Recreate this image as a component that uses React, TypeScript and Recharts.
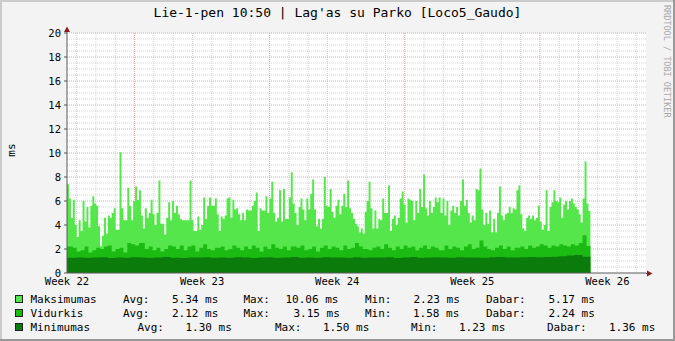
import { ComposedChart, Area, XAxis, YAxis, CartesianGrid } from 'recharts';

// Maksimumas (ms), one value per sample from Week 22 to the last reading
const maxVals = [
  7.4, 6.2, 4.6, 6.1, 4.0, 3.0, 4.4, 3.5, 6.0, 4.3,
  5.5, 3.8, 5.6, 6.4, 5.8, 5.6, 3.9, 2.23, 3.1, 4.6,
  3.3, 4.8, 4.6, 5.0, 5.4, 3.6, 3.6, 10.06, 5.4, 4.4,
  4.4, 7.1, 5.6, 4.4, 6.0, 7.2, 6.1, 6.9, 4.8, 3.7,
  5.4, 4.6, 5.0, 6.1, 4.9, 4.0, 5.0, 7.7, 4.1, 4.1,
  3.2, 4.6, 5.9, 4.4, 6.0, 5.0, 5.6, 4.9, 4.5, 4.4,
  4.4, 4.4, 4.4, 7.7, 4.4, 3.5, 3.5, 4.7, 3.6, 4.0,
  6.3, 4.5, 5.6, 6.3, 5.6, 5.6, 6.2, 4.9, 3.5, 4.7,
  4.5, 4.8, 6.2, 6.3, 4.6, 6.1, 5.3, 5.4, 4.9, 4.4,
  5.0, 4.4, 5.3, 5.2, 5.2, 5.6, 6.0, 6.7, 3.5, 5.4,
  5.2, 5.2, 6.4, 5.0, 6.2, 7.6, 5.0, 4.3, 4.6, 6.9,
  4.3, 7.0, 4.5, 4.5, 6.3, 8.4, 5.8, 5.0, 4.0, 5.5,
  6.2, 5.3, 4.4, 6.2, 5.3, 6.6, 7.8, 5.3, 3.9, 4.5,
  3.7, 4.5, 8.0,
  5.6, 5.5, 7.0, 5.1, 4.6, 5.6, 6.1, 4.9, 5.6, 6.6,
  5.5, 7.7, 5.4, 5.0, 4.5, 4.1, 3.9, 3.4, 3.7, 3.3,
  5.1, 6.0, 7.6, 5.4, 3.7, 5.2, 3.7, 4.5, 4.4, 6.2,
  5.0, 5.0, 7.3, 3.5, 4.5, 4.8, 4.0, 4.6, 6.2, 6.8,
  5.7, 4.2, 6.2, 6.1, 6.0, 4.4, 6.0, 5.0, 7.0, 5.5,
  8.2, 5.4, 4.8, 6.0, 5.0, 5.5, 6.3, 5.9, 6.3, 5.0,
  6.2, 4.8, 6.0, 4.0, 5.2, 5.6, 5.0, 5.5, 4.8, 6.0,
  7.8, 5.6, 6.1, 5.0, 4.2, 4.8, 4.4, 7.0, 6.9, 8.7,
  5.3, 4.0, 5.0, 4.1, 5.2, 3.4, 4.5, 3.4, 5.0, 7.2,
  4.8, 4.4, 4.9, 5.0, 5.5, 5.0, 5.4, 5.3, 6.9, 7.3,
  4.9, 3.7, 3.5, 4.6, 4.8, 4.5, 4.8, 4.4, 4.6, 5.6,
  4.3, 3.6, 4.0, 6.9, 3.5, 5.5, 5.9, 6.9, 6.0, 5.9,
  6.3, 4.6, 5.7, 6.0, 5.3, 6.0, 6.2, 5.8, 5.5, 5.3,
  4.9, 4.2, 6.2, 9.3, 5.8, 5.17,
];

// Vidurkis (ms), coarser readings
const midVals = [
  2.2, 2.1, 1.8, 1.9, 2.2, 1.7, 1.9, 2.1, 2.0, 2.2, 2.3, 1.8, 2.0,
  2.1, 1.7, 2.5, 2.4, 2.3, 2.5, 2.0, 2.2, 1.9, 2.1, 1.8, 2.0, 2.3,
  2.2, 2.0, 2.3, 1.9, 2.2, 2.3, 1.8, 2.1, 2.4, 2.0, 1.9, 2.1, 2.2,
  1.9, 2.0, 2.3, 2.1, 1.9, 2.2, 2.0, 2.3, 2.1, 1.8, 2.2, 2.0, 2.4,
  2.1, 2.0, 2.2, 1.9, 2.2, 2.1, 2.3, 1.9, 2.0, 2.2, 1.8, 2.1, 2.3,
  2.0, 2.2, 2.1, 1.9, 2.3, 2.0, 2.1, 2.5, 2.2, 2.0, 1.9, 2.1, 2.2,
  2.0, 2.4, 2.1, 1.9, 2.2, 2.0, 2.3, 2.1, 2.2, 1.9, 2.1, 2.3, 2.0,
  2.2, 2.1, 1.9, 2.3, 2.0, 2.2, 2.1, 1.9, 2.2, 2.4, 2.0, 2.1, 2.7,
  2.2, 2.0, 1.9, 2.1, 2.3, 2.0, 2.2, 1.9, 2.1, 2.2, 2.0, 2.3, 2.1,
  2.2, 2.4, 2.3, 2.1, 2.3, 2.2, 2.4, 2.3, 2.2, 2.4, 2.3, 2.5, 3.15, 2.24,
];

// Minimumas (ms), coarser readings
const minVals = [
  1.28, 1.30, 1.27, 1.29, 1.32, 1.26, 1.30, 1.28, 1.31, 1.29, 1.27,
  1.30, 1.33, 1.28, 1.26, 1.30, 1.29, 1.31, 1.27, 1.30, 1.28, 1.32,
  1.29, 1.26, 1.30, 1.31, 1.28, 1.29, 1.33, 1.27, 1.30, 1.28, 1.31,
  1.29, 1.30, 1.27, 1.32, 1.28, 1.30, 1.29, 1.31, 1.26, 1.30, 1.33,
  1.28, 1.29, 1.31, 1.30, 1.28, 1.32, 1.29, 1.30, 1.27, 1.31, 1.33,
  1.30, 1.29, 1.32, 1.34, 1.31, 1.33, 1.35, 1.40, 1.45, 1.50, 1.36,
];

const weekTicks = [0, 7, 14, 21, 28];
const weekLabels = ['Week 22', 'Week 23', 'Week 24', 'Week 25', 'Week 26'];
const yTicks = [0, 2, 4, 6, 8, 10, 12, 14, 16, 18, 20];
const dataEnd = 27.12; // days after Week 22 where readings stop
const xMax = 30;

const minorX: number[] = [];
for (let d = 0.5; d < xMax; d += 1) if ((d - 3.5) % 7 !== 0) minorX.push(d);
const majorX = [3.5, 10.5, 17.5, 24.5];
const minorY: number[] = [];
for (let v = 0.5; v < 20; v += 0.5) if (v % 2 !== 0) minorY.push(v);
const majorY = yTicks.filter((v) => v > 0);

const n = maxVals.length;
const rows = maxVals.map((v, i) => ({
  t: (i * dataEnd) / n,
  max: v,
  mid: midVals[Math.floor((i * midVals.length) / n)],
  min: minVals[Math.floor((i * minVals.length) / n)],
}));
rows.push({ ...rows[n - 1], t: dataEnd });

const COL_MAX = '#54e64a';
const COL_MID = '#1cbb14';
const COL_MIN = '#0b7c0b';
const MONO = "'DejaVu Sans Mono', monospace";

const legendRows = [
  { color: COL_MAX, y: 303, items: [['Maksimumas', 30.5], ['Avg:', 123], ['5.34 ms', 172], ['Max:', 243.5], ['10.06 ms', 285.5], ['Min:', 365], ['2.23 ms', 413.5], ['Dabar:', 486], ['5.17 ms', 548.5]] },
  { color: COL_MID, y: 317, items: [['Vidurkis', 30.5], ['Avg:', 123], ['2.12 ms', 172], ['Max:', 243.5], ['3.15 ms', 293.5], ['Min:', 365], ['1.58 ms', 413], ['Dabar:', 486], ['2.24 ms', 548.5]] },
  { color: COL_MIN, y: 331, items: [['Minimumas', 30.5], ['Avg:', 137.5], ['1.30 ms', 185.5], ['Max:', 275], ['1.50 ms', 323], ['Min:', 411], ['1.23 ms', 459], ['Dabar:', 547], ['1.36 ms', 609]] },
];

export default function App() {
  return (
    <div style={{ position: 'relative', width: 675, height: 341, background: '#f3f3f3' }}>
      <style>{'body{margin:0}'}</style>
      <ComposedChart width={675} height={341} data={rows} margin={{ top: 33, right: 29, bottom: 38, left: 27 }}>
        <CartesianGrid horizontalValues={minorY} verticalValues={minorX} stroke="#d2d2d2" strokeDasharray="1 1" fill="#ffffff" />
        <CartesianGrid horizontalValues={majorY} verticalValues={majorX} stroke="#e4a2a2" strokeDasharray="1 1" />
        <XAxis
          dataKey="t"
          type="number"
          domain={[0, xMax]}
          ticks={weekTicks}
          interval={0}
          height={30}
          tickSize={0}
          tickMargin={5}
          tickFormatter={(v) => weekLabels[weekTicks.indexOf(v)]}
          tick={{ fontSize: 10.5, fill: '#000', fontFamily: MONO }}
          axisLine={{ stroke: '#5a5a5a' }}
          allowDataOverflow
        />
        <YAxis
          type="number"
          domain={[0, 20]}
          ticks={yTicks}
          interval={0}
          width={40}
          tickSize={3}
          tickMargin={3}
          tick={{ fontSize: 10.5, fill: '#000', fontFamily: MONO }}
          tickLine={{ stroke: '#5a5a5a' }}
          axisLine={{ stroke: '#5a5a5a' }}
        />
        <Area type="stepAfter" dataKey="max" stroke="none" fill={COL_MAX} fillOpacity={1} isAnimationActive={false} dot={false} activeDot={false} />
        <Area type="stepAfter" dataKey="mid" stroke="none" fill={COL_MID} fillOpacity={1} isAnimationActive={false} dot={false} activeDot={false} />
        <Area type="stepAfter" dataKey="min" stroke="none" fill={COL_MIN} fillOpacity={1} isAnimationActive={false} dot={false} activeDot={false} />
      </ComposedChart>
      <svg width={675} height={341} style={{ position: 'absolute', left: 0, top: 0, pointerEvents: 'none' }}>
        {/* frame */}
        <rect x={0} y={0} width={675} height={2} fill="#cbcbcb" />
        <rect x={0} y={0} width={2} height={341} fill="#cbcbcb" />
        <rect x={0} y={339} width={675} height={2} fill="#999" />
        <rect x={673} y={0} width={2} height={341} fill="#999" />
        <text x={337.5} y={17} textAnchor="middle" fontFamily={MONO} fontSize={13} fill="#000">
          Lie-1-pen 10:50 | Lag'as su Parko [Loco5_Gaudo]
        </text>
        <text x={15} y={150} transform="rotate(-90 15 150)" textAnchor="middle" fontFamily={MONO} fontSize={11} fill="#000">
          ms
        </text>
        <text x={663.5} y={5} transform="rotate(90 663.5 5)" fontFamily={MONO} fontSize={8.5} fill="#a8a8a8">
          RRDTOOL / TOBI OETIKER
        </text>
        {/* axis arrows */}
        <line x1={646} y1={273.5} x2={650} y2={273.5} stroke="#5a5a5a" />
        <polygon points="647,270.5 652.5,273.5 647,276.5" fill="#8e1c1c" />
        <line x1={67} y1={33} x2={67} y2={29} stroke="#5a5a5a" />
        <polygon points="64,32 67,26.5 70,32" fill="#8e1c1c" />
        {legendRows.map((r, ri) => (
          <g key={ri}>
            <rect x={15.5} y={r.y - 7.5} width={7} height={7} fill={r.color} stroke="#222" />
            {r.items.map(([s, x], k) => (
              <text key={k} x={x as number} y={r.y} fontFamily={MONO} fontSize={11} fill="#000" style={{ whiteSpace: 'pre' }}>
                {s}
              </text>
            ))}
          </g>
        ))}
      </svg>
    </div>
  );
}
